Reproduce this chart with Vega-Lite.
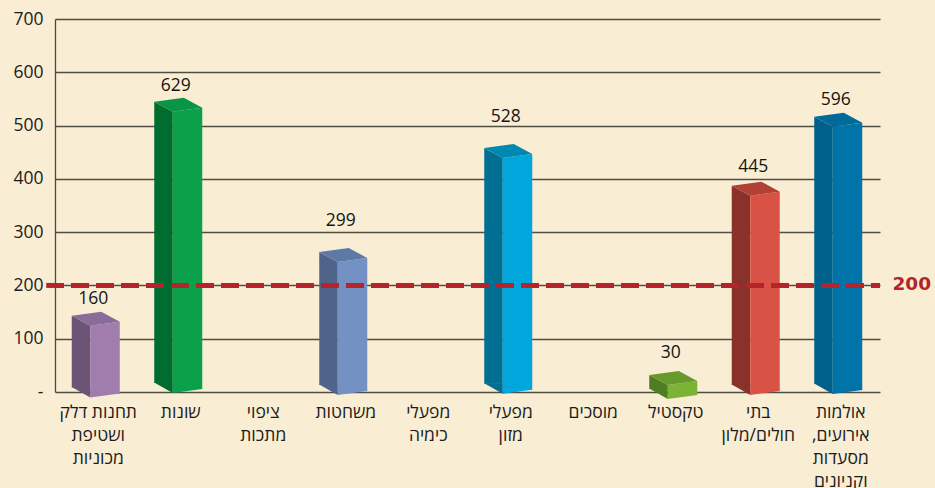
{
"$schema":"https://vega.github.io/schema/vega-lite/v6.json",
"width":825,"height":373,"autosize":"none",
"padding":{"left":55,"top":19,"right":55,"bottom":96},
"background":"#f9edd3",
"config":{"view":{"stroke":null},"font":"Open Sans"},
"datasets":{
"bars":[
{"category":"תחנות דלק\nושטיפת\nמכוניות","value":160,"drawnTop":124.4,"drawnBase":-10.3,"labelPos":176},
{"category":"שונות","value":629,"drawnTop":526,"drawnBase":-1.9,"labelPos":576},
{"category":"ציפוי\nמתכות","value":null,"drawnTop":null,"drawnBase":null,"labelPos":null},
{"category":"משחטות","value":299,"drawnTop":244,"drawnBase":-5.6,"labelPos":323},
{"category":"מפעלי\nכימיה","value":null,"drawnTop":null,"drawnBase":null,"labelPos":null},
{"category":"מפעלי\nמזון","value":528,"drawnTop":439,"drawnBase":-3.2,"labelPos":518},
{"category":"מוסכים","value":null,"drawnTop":null,"drawnBase":null,"labelPos":null},
{"category":"טקסטיל","value":30,"drawnTop":13.1,"drawnBase":-13.1,"labelPos":75},
{"category":"בתי\nחולים/מלון","value":445,"drawnTop":368.4,"drawnBase":-5.6,"labelPos":424},
{"category":"אולמות\nאירועים,\nמסעדות\nוקניונים","value":596,"drawnTop":497.9,"drawnBase":-3.8,"labelPos":550}
],
"threshold":[{"category":"אולמות\nאירועים,\nמסעדות\nוקניונים","threshold":200}],
"thresholdStart":[{"category":"תחנות דלק\nושטיפת\nמכוניות","threshold":200}]
},
"data":{"name":"bars"},
"encoding":{
"x":{"field":"category","type":"nominal","sort":null,"title":null,
"scale":{"paddingInner":0,"paddingOuter":0,"domain":["תחנות דלק\nושטיפת\nמכוניות","שונות","ציפוי\nמתכות","משחטות","מפעלי\nכימיה","מפעלי\nמזון","מוסכים","טקסטיל","בתי\nחולים/מלון","אולמות\nאירועים,\nמסעדות\nוקניונים"]},
"axis":{"domain":false,"ticks":false,"grid":false,"labelAngle":0,"labelOffset":2,"labelPadding":11,"labelFontSize":17.5,"labelColor":"#1c1c1c","labelLineHeight":23,"labelLimit":300,"labelOverlap":false,"labelBaseline":"top","labelExpr":"split(replace(datum.label,',',',\u200f'),'\\n')"}}
},
"layer":[
{"mark":{"type":"bar","width":18.5,"xOffset":-15.25,"y2Offset":-10},
 "encoding":{
  "y":{"field":"drawnTop","type":"quantitative","stack":null,"title":null,"scale":{"domain":[0,700],"nice":false},
   "axis":{"values":[0,100,200,300,400,500,600,700],"domainColor":"#4a4a40","domainWidth":1.3,"ticks":false,"grid":true,"gridColor":"#4f4e44","gridWidth":1.3,"labelFontSize":17.5,"labelColor":"#1c1c1c","labelPadding":12,"labelExpr":"datum.value===0?'-':datum.label"}},
  "y2":{"field":"drawnBase"},
  "color":{"field":"category","type":"nominal","legend":null,
   "scale":{"domain":["תחנות דלק\nושטיפת\nמכוניות","שונות","משחטות","מפעלי\nמזון","טקסטיל","בתי\nחולים/מלון","אולמות\nאירועים,\nמסעדות\nוקניונים"],
   "range":["#6c5476","#006c30","#4f6488","#006f92","#4e7d22","#8a3229","#00608c"]}}
 }},
{"mark":{"type":"bar","width":29.5,"xOffset":8.75,"y2Offset":-4},
 "encoding":{
  "y":{"field":"drawnTop","type":"quantitative","stack":null},
  "y2":{"field":"drawnBase"},
  "color":{"field":"category","type":"nominal","legend":null,
   "scale":{"domain":["תחנות דלק\nושטיפת\nמכוניות","שונות","משחטות","מפעלי\nמזון","טקסטיל","בתי\nחולים/מלון","אולמות\nאירועים,\nמסעדות\nוקניונים"],
   "range":["#a17dae","#0ba04a","#7491c3","#00a6dc","#7cb236","#d85346","#0073a8"]}}
 }},
{"mark":{"type":"point","filled":true,"size":4,"strokeWidth":0,"opacity":1,"shape":"M-24.5,-10 L-6,0 L-6,0.5 L-24.5,0.5 Z"},
 "encoding":{
  "y":{"field":"drawnTop","type":"quantitative"},
  "color":{"field":"category","type":"nominal","legend":null,
   "scale":{"domain":["תחנות דלק\nושטיפת\nמכוניות","שונות","משחטות","מפעלי\nמזון","טקסטיל","בתי\nחולים/מלון","אולמות\nאירועים,\nמסעדות\nוקניונים"],
   "range":["#6c5476","#006c30","#4f6488","#006f92","#4e7d22","#8a3229","#00608c"]}}
 }},
{"mark":{"type":"point","filled":true,"size":4,"strokeWidth":0,"opacity":1,"shape":"M-6,0 L23.5,-4 L23.5,0.5 L-6,0.5 Z"},
 "encoding":{
  "y":{"field":"drawnTop","type":"quantitative"},
  "color":{"field":"category","type":"nominal","legend":null,
   "scale":{"domain":["תחנות דלק\nושטיפת\nמכוניות","שונות","משחטות","מפעלי\nמזון","טקסטיל","בתי\nחולים/מלון","אולמות\nאירועים,\nמסעדות\nוקניונים"],
   "range":["#a17dae","#0ba04a","#7491c3","#00a6dc","#7cb236","#d85346","#0073a8"]}}
 }},
{"mark":{"type":"point","filled":true,"size":4,"strokeWidth":0,"opacity":1,"shape":"M-24.5,-10 L5,-14 L23.5,-4 L-6,0 Z"},
 "encoding":{
  "y":{"field":"drawnTop","type":"quantitative"},
  "color":{"field":"category","type":"nominal","legend":null,
   "scale":{"domain":["תחנות דלק\nושטיפת\nמכוניות","שונות","משחטות","מפעלי\nמזון","טקסטיל","בתי\nחולים/מלון","אולמות\nאירועים,\nמסעדות\nוקניונים"],
   "range":["#8a6c99","#089644","#5f79a6","#0088b2","#669a2c","#b04135","#006a9a"]}}
 }},
{"mark":{"type":"point","filled":true,"size":4,"strokeWidth":0,"opacity":1,"shape":"M-24.5,-10.5 L-6,-10.5 L-6,0 Z"},
 "encoding":{
  "y":{"field":"drawnBase","type":"quantitative"},
  "color":{"field":"category","type":"nominal","legend":null,
   "scale":{"domain":["תחנות דלק\nושטיפת\nמכוניות","שונות","משחטות","מפעלי\nמזון","טקסטיל","בתי\nחולים/מלון","אולמות\nאירועים,\nמסעדות\nוקניונים"],
   "range":["#6c5476","#006c30","#4f6488","#006f92","#4e7d22","#8a3229","#00608c"]}}
 }},
{"mark":{"type":"point","filled":true,"size":4,"strokeWidth":0,"opacity":1,"shape":"M-6,-4.5 L23.5,-4.5 L23.5,-4 L-6,0 Z"},
 "encoding":{
  "y":{"field":"drawnBase","type":"quantitative"},
  "color":{"field":"category","type":"nominal","legend":null,
   "scale":{"domain":["תחנות דלק\nושטיפת\nמכוניות","שונות","משחטות","מפעלי\nמזון","טקסטיל","בתי\nחולים/מלון","אולמות\nאירועים,\nמסעדות\nוקניונים"],
   "range":["#a17dae","#0ba04a","#7491c3","#00a6dc","#7cb236","#d85346","#0073a8"]}}
 }},
{"mark":{"type":"text","fontSize":17.5,"color":"#151515","xOffset":-3,"baseline":"middle","dy":1},
 "encoding":{
  "y":{"field":"labelPos","type":"quantitative"},
  "text":{"field":"value","type":"quantitative"}
 }},
{"data":{"name":"threshold"},
 "mark":{"type":"rule","color":"#b5232b","strokeWidth":5,"strokeDash":[18,7],"strokeDashOffset":9},
 "encoding":{"x":null,"y":{"field":"threshold","type":"quantitative"}}
},
{"data":{"name":"thresholdStart"},
 "mark":{"type":"point","filled":true,"size":4,"strokeWidth":0,"opacity":1,"color":"#b5232b","shape":"M-50,-2.5 L-41,-2.5 L-41,2.5 L-50,2.5 Z"},
 "encoding":{"y":{"field":"threshold","type":"quantitative"}}
},
{"data":{"name":"threshold"},
 "mark":{"type":"text","font":"DejaVu Sans","fontWeight":"bold","fontSize":18.5,"color":"#b5232b","xOffset":73,"baseline":"middle","dy":-1},
 "encoding":{"y":{"field":"threshold","type":"quantitative"},"text":{"field":"threshold","type":"quantitative"}}
}
],
"resolve":{"scale":{"color":"independent"}}
}
